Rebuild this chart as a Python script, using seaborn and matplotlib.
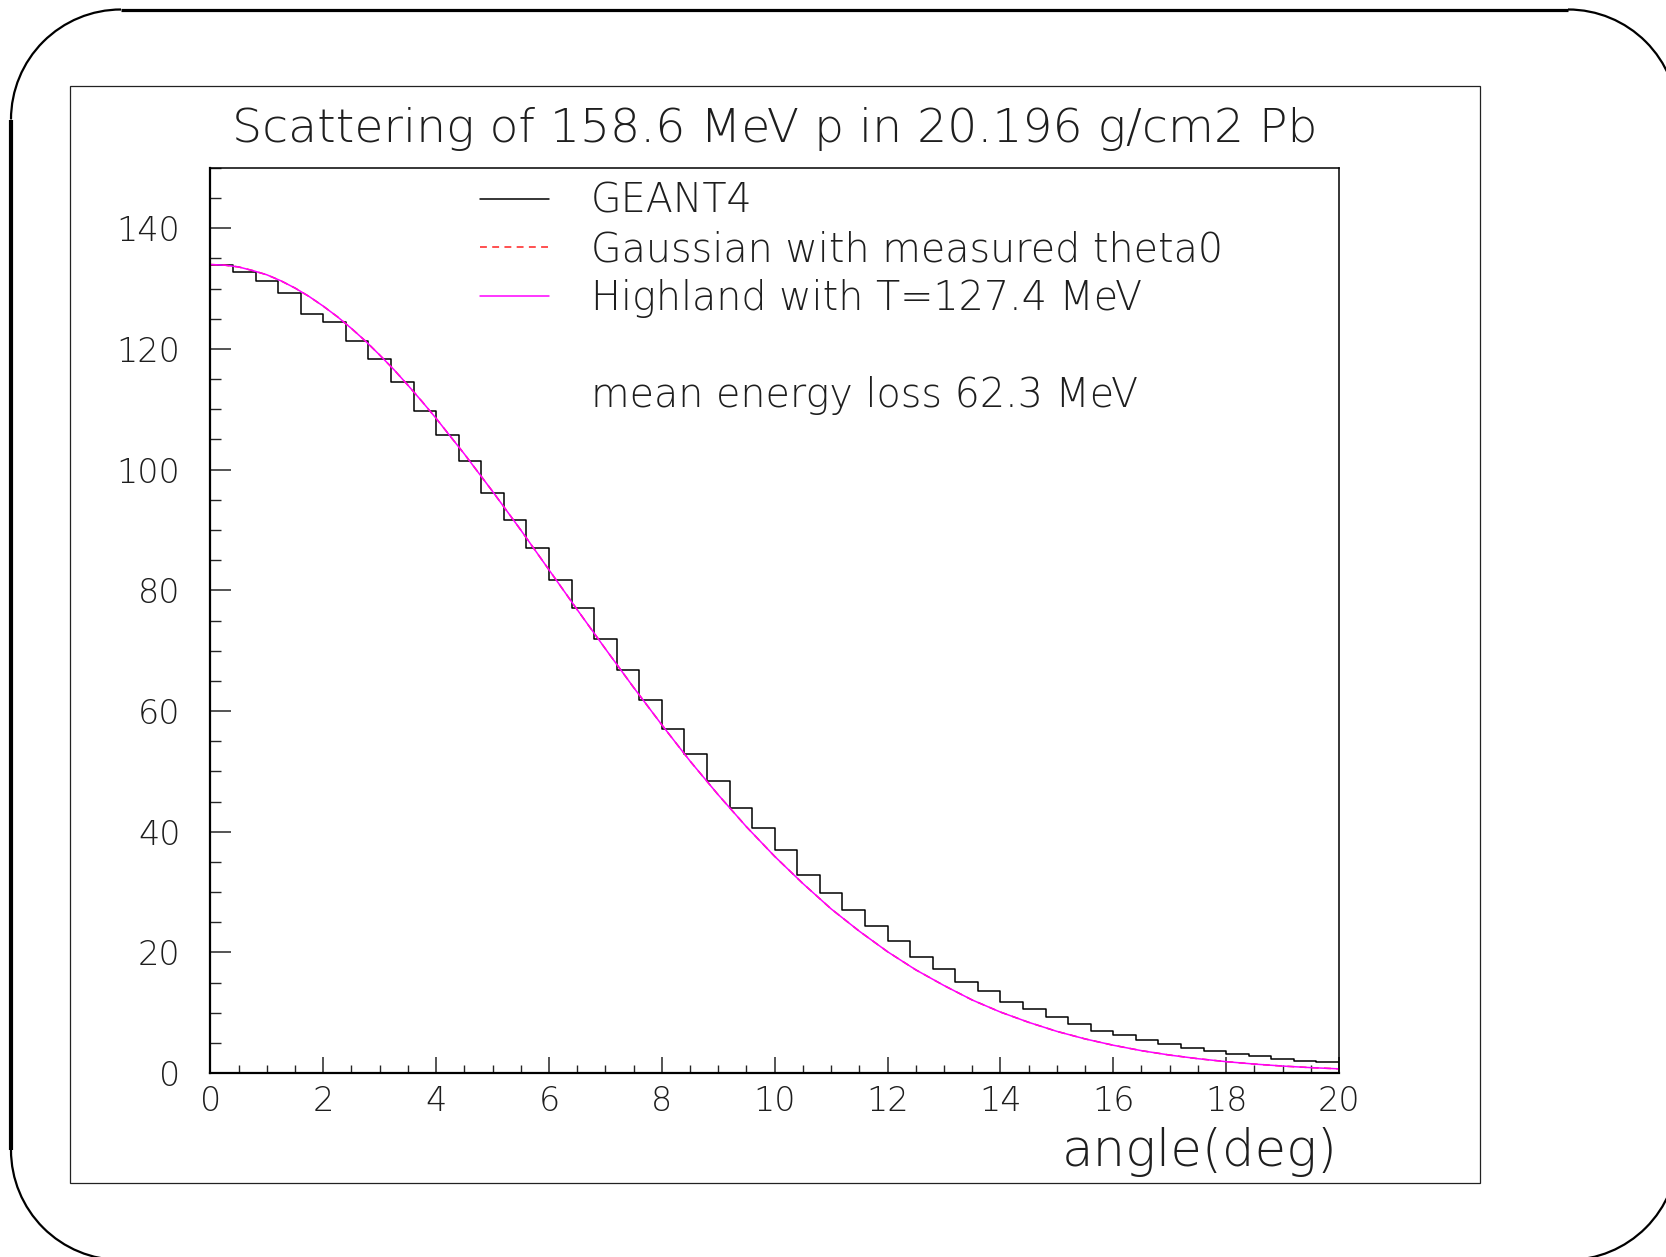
import numpy as np
import pandas as pd
import matplotlib
matplotlib.use("Agg")
import matplotlib.pyplot as plt
from matplotlib.lines import Line2D
from matplotlib.patches import Arc, Rectangle
from matplotlib.ticker import MultipleLocator
import seaborn as sns

# ---------------- data ----------------
bin_edges = [round(0.4 * i, 2) for i in range(51)]          # 50 bins of 0.4 deg
geant4_counts = [133.9, 132.7, 131.3, 129.3, 125.8, 124.4, 121.4, 118.4, 114.6, 109.7,
                 105.7, 101.4, 96.2, 91.6, 87.0, 81.7, 77.0, 71.9, 66.8, 61.9,
                 57.0, 52.9, 48.4, 43.9, 40.6, 36.9, 32.9, 29.9, 27.0, 24.3,
                 21.9, 19.3, 17.2, 15.1, 13.6, 11.8, 10.6, 9.2, 8.2, 7.0,
                 6.25, 5.5, 4.8, 4.1, 3.65, 3.15, 2.8, 2.4, 2.05, 1.8]
curve_angle = [0, 0.25, 0.5, 0.75, 1, 1.25, 1.5, 1.75, 2, 2.25, 2.5, 2.75, 3, 3.25, 3.5, 3.75,
               4, 4.5, 5, 5.5, 6, 6.5, 7, 7.5, 8, 8.5, 9, 9.5,
               10, 10.5, 11, 11.5, 12, 12.5, 13, 13.5, 14, 14.5, 15, 15.5, 16, 16.5, 17, 17.5,
               18, 18.5, 19, 19.5, 20]
gauss_vals = [134.0, 133.9, 133.6, 133.0, 132.3, 131.3, 130.1, 128.7, 127.1, 125.35,
              123.4, 121.3, 119.0, 116.6, 114.0, 111.3,
              108.5, 102.6,
              96.4, 90.0, 83.4, 76.8, 70.3, 63.9, 57.7, 51.7, 46.1, 40.8,
              35.9, 31.4, 27.2, 23.5, 20.1, 17.1, 14.5, 12.1, 10.1, 8.4,
              6.9, 5.65, 4.6, 3.7, 2.97, 2.37, 1.88, 1.48, 1.15, 0.89, 0.69]
highland_vals = list(gauss_vals)

title = "Scattering of 158.6 MeV p in 20.196 g/cm2 Pb"
legend_labels = ["GEANT4", "Gaussian with measured theta0", "Highland with T=127.4 MeV"]
note = "mean energy loss 62.3 MeV"
x_label = "angle(deg)"

edges_arr = np.array(bin_edges)
centers = (edges_arr[:-1] + edges_arr[1:]) / 2
hist_df = pd.DataFrame({"angle": centers, "count": geant4_counts})
curve_df = pd.DataFrame({"angle": curve_angle, "gauss": gauss_vals, "highland": highland_vals})

# ---------------- style ----------------
sns.set_style("white")
plt.rcParams["font.family"] = ["DejaVu Sans"]
plt.rcParams["font.weight"] = "ultralight"
plt.rcParams["axes.labelweight"] = "ultralight"
TXT = "#1e1e1e"

W, H = 1666, 1257
fig = plt.figure(figsize=(W / 100, H / 100), dpi=100)
fig.patch.set_facecolor("white")

ax_l, ax_r, ax_t, ax_b = 210.4, 1339.0, 168.0, 1073.0
ax = fig.add_axes([ax_l / W, 1 - ax_b / H, (ax_r - ax_l) / W, (ax_b - ax_t) / H])

sns.histplot(data=hist_df, x="angle", weights="count", bins=bin_edges, element="step",
             fill=False, color="black", linewidth=1.1, ax=ax)
sns.lineplot(data=curve_df, x="angle", y="gauss", color="#ff2020", linewidth=1.1,
             linestyle=(0, (4.5, 3.5)), ax=ax)
sns.lineplot(data=curve_df, x="angle", y="highland", color="#ff00ff", linewidth=1.1, ax=ax)

ax.set_xlim(0, 20)
ax.set_ylim(0, 150)
ax.set_ylabel("")
ax.set_xlabel(x_label, fontsize=37, color=TXT, loc="right", fontweight="ultralight")
ax.xaxis.set_label_coords(0.9985, -0.060)

ax.xaxis.set_major_locator(MultipleLocator(2))
ax.xaxis.set_minor_locator(MultipleLocator(0.5))
ax.yaxis.set_major_locator(MultipleLocator(20))
ax.yaxis.set_minor_locator(MultipleLocator(5))
ax.set_yticks(np.arange(0, 141, 20))
ax.tick_params(axis="x", which="major", direction="in", length=11.5, width=1.1,
               labelsize=24, pad=8.7, labelcolor=TXT, bottom=True, top=False)
ax.tick_params(axis="x", which="minor", direction="in", length=5.8, width=1.0,
               bottom=True, top=False)
ax.tick_params(axis="y", which="major", direction="in", length=15, width=1.1,
               labelsize=24, pad=21.5, labelcolor=TXT, left=True, right=False)
ax.tick_params(axis="y", which="minor", direction="in", length=7.8, width=1.0,
               left=True, right=False)
for s in ax.spines.values():
    s.set_color("black")
    s.set_linewidth(1.1)
ax.spines["left"].set_linewidth(1.6)
ax.spines["bottom"].set_linewidth(1.6)

# legend
hist_line = ax.lines[0]
gauss_line = ax.lines[1]
high_line = ax.lines[2]
blank = Line2D([], [], color="none")
leg = ax.legend([hist_line, gauss_line, high_line, blank, blank],
                legend_labels + [" ", note],
                loc="upper left", bbox_to_anchor=(480 / W, 1 - 181.5 / H),
                bbox_transform=fig.transFigure, frameon=False, fontsize=28.5,
                handlelength=1.74, handletextpad=1.06, labelspacing=0.245,
                borderpad=0, borderaxespad=0)
for t in leg.get_texts():
    t.set_color(TXT)

# title
fig.text(775 / W, 1 - 142 / H, title, ha="center", va="baseline", fontsize=34, color=TXT)

# ---------------- outer frames ----------------
ov = fig.add_axes([0, 0, 1, 1], zorder=-1)
ov.set_xlim(0, W)
ov.set_ylim(0, H)
ov.axis("off")
ov.add_patch(Rectangle((69.7, H - 1183.3), 1480.3 - 69.7, 1183.3 - 86.3,
                       fill=False, edgecolor="#222222", linewidth=0.9))
L, T, R, B, rad = 11, 9.5, 1678, 1260, 110
def yy(v):
    return H - v
ov.plot([L + rad, R - rad], [yy(T), yy(T)], color="black", linewidth=2.3, solid_capstyle="butt")
ov.plot([L, L], [yy(T + rad), yy(B - rad)], color="black", linewidth=3.0, solid_capstyle="butt")
ov.plot([L + rad, R - rad], [yy(B), yy(B)], color="black", linewidth=2.3)
ov.plot([R, R], [yy(T + rad), yy(B - rad)], color="black", linewidth=3.0)
for (cx, cy, a1, a2) in [(L + rad, T + rad, 90, 180), (L + rad, B - rad, 180, 270),
                         (R - rad, T + rad, 0, 90), (R - rad, B - rad, 270, 360)]:
    ov.add_patch(Arc((cx, yy(cy)), 2 * rad, 2 * rad, theta1=a1, theta2=a2,
                     color="black", linewidth=1.6))

fig.savefig("out.png", dpi=100, facecolor="white")
